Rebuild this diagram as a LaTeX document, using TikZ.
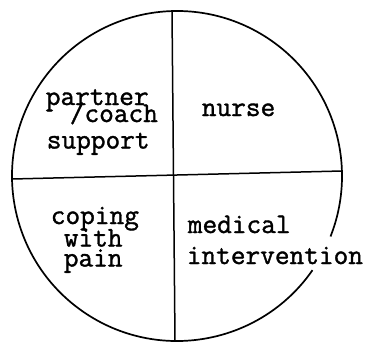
\documentclass[tikz,border=0pt]{standalone}
\usepackage{fontspec}
\usepackage{tikz}

\newfontfamily\typed[FakeBold=1.3]{Latin Modern Mono}

\tikzset{
	quarter/.style={inner sep=0pt, anchor=base west, font=\typed\fontsize{28.5}{28.5}\selectfont},
}

\begin{document}
\begin{tikzpicture}[x=1pt, y=-1pt, line width=1.7pt]
	\useasboundingbox (0,0) rectangle (371,343);

	% circle, left open where the long word runs out of it
	\draw (177,176) ++(34.8:165) arc[start angle=34.8, end angle=381.5, radius=165];

	\coordinate (top) at (172,11);
	\coordinate (bottom) at (175,341);
	\coordinate (left) at (12,179);
	\coordinate (right) at (342,171);
	\draw[line width=1.5pt] (top) -- (bottom);
	\draw[line width=1.5pt] (left) -- (right);

	\node[quarter] (partner) at (45,105) {partner};
	\node[quarter] (coach) at (69,122) {/coach};
	\node[quarter] (support) at (46,148.5) {support};

	\node[quarter] (nurse) at (201,116) {nurse};

	\node[quarter] (coping) at (50,224) {coping};
	\node[quarter] (with) at (63,246.5) {with};
	\node[quarter] (pain) at (63,266.5) {pain};

	\node[quarter] (medical) at (187,233) {medical};
	\node[quarter] (intervention) at (186,264) {intervention};
\end{tikzpicture}
\end{document}
